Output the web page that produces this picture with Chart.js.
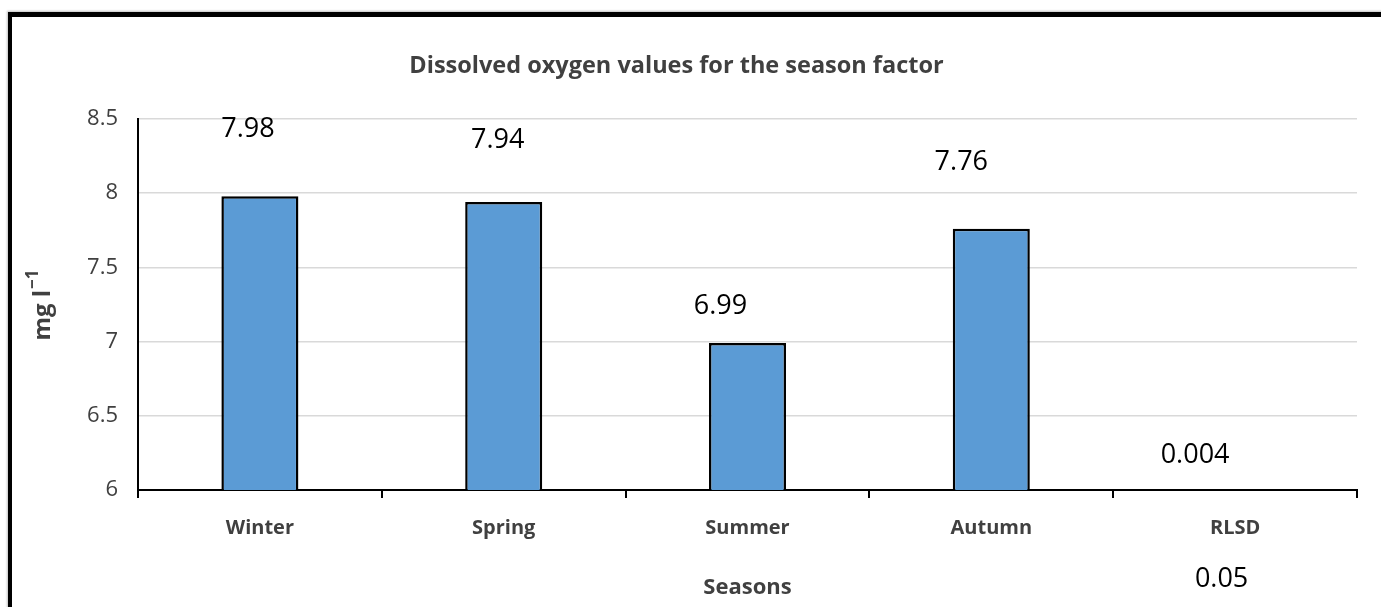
<!DOCTYPE html>
<html>
<head>
<meta charset="utf-8">
<script src="https://cdn.jsdelivr.net/npm/chart.js@4.4.1/dist/chart.umd.min.js"></script>
<style>
  html, body { margin: 0; padding: 0; background: #fff; overflow: hidden; }
  #wrap { position: relative; width: 1381px; height: 607px; }
  #frame { position: absolute; left: 8px; top: 12px; width: 1500px; height: 700px;
           border-top: 5px solid #000; border-left: 4px solid #000; box-shadow: -1px -1px 2px rgba(0,0,0,0.25); }
  canvas { position: absolute; left: 0; top: 0; }
</style>
</head>
<body>
<div id="wrap">
  <div id="frame"></div>
  <canvas id="c" width="1381" height="607"></canvas>
</div>
<script>
const categories = ['Winter', 'Spring', 'Summer', 'Autumn', 'RLSD'];
const values = [7.98, 7.94, 6.99, 7.76, 0.004];
const labelTexts = ['7.98', '7.94', '6.99', '7.76', '0.004'];
// where each value label sits, in axis units, and its horizontal shift in px
const labelAt = [8.443, 8.372, 7.253, 8.220, 6.249];
const labelShift = [-12, -6, -27, -30, -40];
const yTicks = [6, 6.5, 7, 7.5, 8, 8.5];
const titleText = 'Dissolved oxygen values for the season factor';
const yTitleMain = 'mg l';
const yTitleSup = '\u22121';
const xTitle = 'Seasons';
const lsdText = '0.05';

const FONT = "'Open Sans', 'Noto Sans', sans-serif";
const LBL = 27;

const annot = {
  id: 'annot',
  afterDatasetsDraw(chart) {
    const ctx = chart.ctx;
    const xs = chart.scales.x, ys = chart.scales.y;
    ctx.save();
    ctx.fillStyle = '#000';
    ctx.font = LBL + 'px ' + FONT;
    ctx.textAlign = 'center';
    ctx.textBaseline = 'alphabetic';
    const dy = LBL * 0.357;
    labelTexts.forEach((t, i) => {
      ctx.fillText(t, xs.getPixelForValue(i) + labelShift[i], ys.getPixelForValue(labelAt[i]) + dy);
    });
    // LSD value under RLSD category
    ctx.fillText(lsdText, xs.getPixelForValue(4) - 13.5, 577.5 + dy);
    // title
    ctx.fillStyle = '#404040';
    ctx.textBaseline = 'middle';
    ctx.font = 'bold 23.5px ' + FONT;
    ctx.fillText(titleText, 676.5, 66);
    // x title
    ctx.font = 'bold 22px ' + FONT;
    ctx.fillText(xTitle, (chart.chartArea.left + chart.chartArea.right) / 2, 588);
    // y title with superscript
    ctx.translate(41, 305);
    ctx.rotate(-Math.PI / 2);
    ctx.textAlign = 'left';
    ctx.textBaseline = 'alphabetic';
    ctx.font = 'bold 24px ' + FONT;
    const w1 = ctx.measureText(yTitleMain).width;
    ctx.font = 'bold 17px ' + FONT;
    const w2 = ctx.measureText(yTitleSup).width;
    const start = -(w1 + w2 + 1) / 2;
    ctx.font = 'bold 24px ' + FONT;
    ctx.fillText(yTitleMain, start, 9);
    ctx.font = 'bold 17px ' + FONT;
    ctx.fillText(yTitleSup, start + w1 + 1, -3);
    ctx.restore();
  }
};

new Chart(document.getElementById('c'), {
  type: 'bar',
  data: {
    labels: categories,
    datasets: [{
      data: values,
      backgroundColor: '#5B9BD5',
      borderColor: '#000',
      borderWidth: 2.5,
      categoryPercentage: 1,
      barPercentage: 0.316
    }]
  },
  options: {
    responsive: false,
    animation: false,
    devicePixelRatio: 1,
    layout: { padding: { left: 0, top: 119, right: 24, bottom: 0 } },
    plugins: { legend: { display: false }, tooltip: { enabled: false }, title: { display: false } },
    scales: {
      x: {
        offset: true,
        grid: { display: true, drawOnChartArea: false, drawTicks: true, tickLength: 8, color: '#000', lineWidth: 2, offset: true },
        border: { display: true, color: '#000', width: 2 },
        ticks: { color: '#404040', font: { family: FONT, size: 20, weight: 'bold' }, padding: 18 },
        afterFit(s) { s.height = 117; }
      },
      y: {
        min: 6, max: 8.5,
        afterBuildTicks(s) { s.ticks = yTicks.map(v => ({ value: v })); },
        grid: { color: '#d9d9d9', lineWidth: 1.5, drawTicks: false },
        border: { display: true, color: '#000', width: 2 },
        ticks: { color: '#404040', font: { family: FONT, size: 22 }, padding: 20, callback: v => String(v) },
        afterFit(s) { s.width = 138; }
      }
    }
  },
  plugins: [annot]
});
</script>
</body>
</html>
